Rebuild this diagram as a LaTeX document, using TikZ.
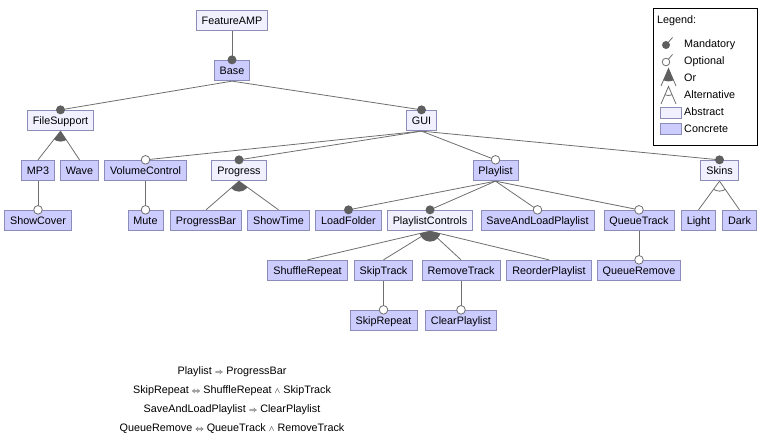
\documentclass[tikz,border=0pt]{standalone}
\usepackage{fontspec}
\setmainfont{Liberation Sans}
\usepackage{tikz}
\usetikzlibrary{positioning, calc}

\definecolor{abstractfill}{RGB}{240,240,255}
\definecolor{concretefill}{RGB}{204,204,255}
\definecolor{boxline}{RGB}{140,140,185}
\definecolor{edgegray}{RGB}{110,110,110}
\definecolor{dotgray}{RGB}{95,95,95}

\begin{document}
\begin{tikzpicture}[x=1pt, y=1pt,
    font=\fontsize{10.8pt}{13pt}\selectfont,
    feature/.style={rectangle, draw=boxline, line width=0.8pt, minimum height=20.5pt, inner xsep=5.5pt, inner ysep=0pt, text height=10.5pt, text depth=2pt},
    abstract/.style={feature, fill=abstractfill},
    concrete/.style={feature, fill=concretefill},
    edge/.style={draw=edgegray, line width=0.8pt},
    optional/.style={draw=edgegray, fill=white, line width=0.8pt},
    node distance=28.7pt]
    \useasboundingbox (0,0) rectangle (766,-443);

    % feature tree
    \node[abstract] (featureamp) at (232,-20.5) {FeatureAMP};
    \node[concrete, below=of featureamp] (base) {Base};
    \node[abstract, below=of base, xshift=-171.5pt] (filesupport) {FileSupport};
    \node[abstract, below=of base, xshift=189.5pt] (gui) {GUI};
    \node[concrete, below=of filesupport, xshift=-22.5pt] (mp3) {MP3};
    \node[concrete, below=of filesupport, xshift=19pt] (wave) {Wave};
    \node[concrete, below=of gui, xshift=-276pt] (volumecontrol) {VolumeControl};
    \node[abstract, below=of gui, xshift=-182.5pt] (progress) {Progress};
    \node[concrete, below=of gui, xshift=74pt] (playlist) {Playlist};
    \node[abstract, below=of gui, xshift=298pt] (skins) {Skins};
    \node[concrete, below=of mp3] (showcover) {ShowCover};
    \node[concrete, below=of volumecontrol] (mute) {Mute};
    \node[concrete, below=of progress, xshift=-33pt] (progressbar) {ProgressBar};
    \node[concrete, below=of progress, xshift=39.5pt] (showtime) {ShowTime};
    \node[concrete, below=of playlist, xshift=-147pt] (loadfolder) {LoadFolder};
    \node[abstract, below=of playlist, xshift=-65.5pt] (playlistcontrols) {PlaylistControls};
    \node[concrete, below=of playlist, xshift=42pt] (saveandloadplaylist) {SaveAndLoadPlaylist};
    \node[concrete, below=of playlist, xshift=143.5pt] (queuetrack) {QueueTrack};
    \node[concrete, below=of skins, xshift=-21pt] (light) {Light};
    \node[concrete, below=of skins, xshift=20pt] (dark) {Dark};
    \node[concrete, below=of playlistcontrols, xshift=-122.5pt] (shufflerepeat) {ShuffleRepeat};
    \node[concrete, below=of playlistcontrols, xshift=-46.5pt] (skiptrack) {SkipTrack};
    \node[concrete, below=of playlistcontrols, xshift=31pt] (removetrack) {RemoveTrack};
    \node[concrete, below=of playlistcontrols, xshift=119pt] (reorderplaylist) {ReorderPlaylist};
    \node[concrete, below=of queuetrack] (queueremove) {QueueRemove};
    \node[concrete, below=of skiptrack] (skiprepeat) {SkipRepeat};
    \node[concrete, below=of removetrack] (clearplaylist) {ClearPlaylist};

    % mandatory
    \foreach \p/\c in {featureamp/base, base/filesupport, base/gui, gui/progress, gui/skins, playlist/loadfolder, playlist/playlistcontrols}{
        \draw[edge] (\p.south) -- (\c.north);
        \fill[dotgray] (\c.north) circle (4.5pt);
    }
    % optional
    \foreach \p/\c in {gui/volumecontrol, gui/playlist, playlist/saveandloadplaylist, playlist/queuetrack, mp3/showcover, volumecontrol/mute, skiptrack/skiprepeat, removetrack/clearplaylist, queuetrack/queueremove}{
        \draw[edge] (\p.south) -- (\c.north);
        \draw[optional] (\c.north) circle (4.3pt);
    }
    % or and alternative groups
    \foreach \p/\c in {filesupport/mp3, filesupport/wave, progress/progressbar, progress/showtime, playlistcontrols/shufflerepeat, playlistcontrols/skiptrack, playlistcontrols/removetrack, playlistcontrols/reorderplaylist, skins/light, skins/dark}
        \draw[edge] (\p.south) -- (\c.north);
    \foreach \p/\a/\b in {filesupport/mp3/wave, progress/progressbar/showtime, playlistcontrols/shufflerepeat/reorderplaylist}{
        \begin{scope}
            \clip (\p.south) -- (\a.north) -- (\b.north) -- cycle;
            \fill[dotgray] (\p.south) circle (10.5pt);
        \end{scope}
    }
    \begin{scope}
        \clip (skins.south) -- (light.north) -- (dark.north) -- cycle;
        \draw[edge] (skins.south) circle (10pt);
    \end{scope}

    % legend
    \node[draw, line width=0.8pt, minimum width=104pt, minimum height=137pt, anchor=north west] (legend) at (653,-8) {};
    \node[anchor=base west, inner sep=0pt] (legendtitle) at (657,-24) {Legend:};
    \foreach \txt [count=\i] in {Mandatory, Optional, Or, Alternative, Abstract, Concrete}
        \node[anchor=base west, inner sep=0pt] (legend\i) at (684,-30.3-17*\i) {\txt};
    \draw[edge] (666,-45) -- (672.5,-37.5);
    \fill[dotgray] (666,-45) circle (4pt);
    \draw[edge] (666,-62) -- (672.5,-54.5);
    \draw[optional] (666,-62) circle (3.8pt);
    \draw[edge] (661,-86) -- (668.5,-68.5) -- (676,-86);
    \begin{scope}
        \clip (661,-86) -- (668.5,-68.5) -- (676,-86) -- cycle;
        \fill[dotgray] (668.5,-68.5) circle (13pt);
    \end{scope}
    \draw[edge] (661,-104) -- (668.5,-86.5) -- (676,-104);
    \begin{scope}
        \clip (661,-104) -- (668.5,-86.5) -- (676,-104) -- cycle;
        \draw[edge] (668.5,-86.5) circle (9pt);
    \end{scope}
    \draw[boxline, fill=abstractfill] (660,-107) rectangle (681,-118);
    \draw[boxline, fill=concretefill] (660,-123.5) rectangle (681,-134.5);

    % cross-tree constraints
    \node[anchor=base] (rule1) at (232,-375) {Playlist $\scriptstyle\Rightarrow$ ProgressBar};
    \node[anchor=base] (rule2) at (232,-394) {SkipRepeat $\scriptstyle\Leftrightarrow$ ShuffleRepeat $\scriptstyle\wedge$ SkipTrack};
    \node[anchor=base] (rule3) at (232,-413) {SaveAndLoadPlaylist $\scriptstyle\Rightarrow$ ClearPlaylist};
    \node[anchor=base] (rule4) at (232,-432) {QueueRemove $\scriptstyle\Leftrightarrow$ QueueTrack $\scriptstyle\wedge$ RemoveTrack};
\end{tikzpicture}
\end{document}
